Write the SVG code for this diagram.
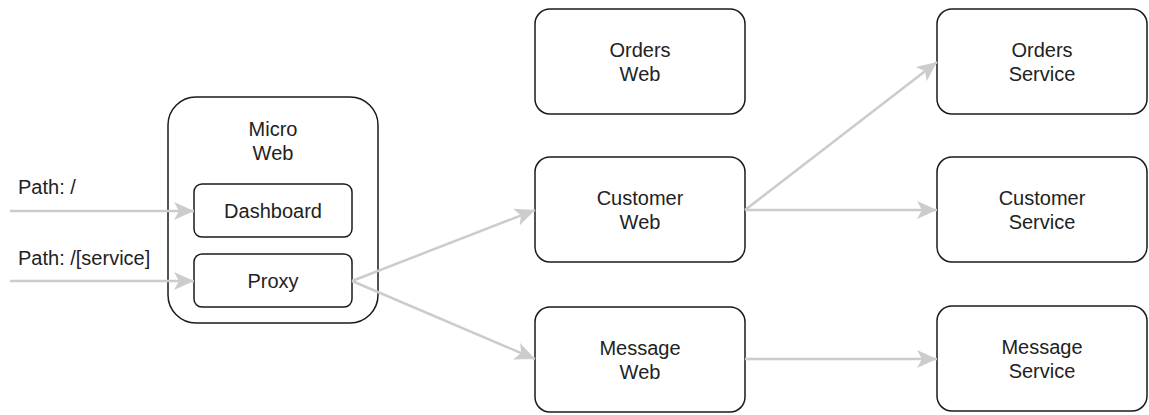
<svg xmlns="http://www.w3.org/2000/svg" width="1149" height="415" viewBox="0 0 1149 415">
<style>
.box{fill:#fff;stroke:#1a1a1a;stroke-width:1.5}
.t{font-family:"Liberation Sans",Arial,sans-serif;font-size:20px;fill:#222;text-anchor:middle}
.l{font-family:"Liberation Sans",Arial,sans-serif;font-size:20px;fill:#222}
.c{fill:none;stroke:#cccccc;stroke-width:2.5}
</style>
<defs>
<marker id="ah" markerUnits="userSpaceOnUse" markerWidth="22" markerHeight="20" refX="20" refY="9" orient="auto" viewBox="0 0 22 18">
<path d="M0,0 L20,9 L0,18 L5,9 Z" fill="#cccccc"/>
</marker>
</defs>
<g id="micro-web">
<rect class="box" x="168" y="97" width="210" height="226" rx="28"/>
<text class="t" x="273" y="136">Micro</text>
<text class="t" x="273" y="160">Web</text>
</g>
<g id="dashboard">
<rect class="box" x="194" y="184" width="158" height="53" rx="8"/>
<text class="t" x="273" y="218">Dashboard</text>
</g>
<g id="proxy">
<rect class="box" x="194" y="254" width="158" height="53" rx="8"/>
<text class="t" x="273" y="288">Proxy</text>
</g>
<g id="orders-web">
<rect class="box" x="535" y="9" width="210" height="105" rx="15"/>
<text class="t" x="640" y="57">Orders</text>
<text class="t" x="640" y="81">Web</text>
</g>
<g id="customer-web">
<rect class="box" x="535" y="157" width="210" height="105" rx="15"/>
<text class="t" x="640" y="205">Customer</text>
<text class="t" x="640" y="229">Web</text>
</g>
<g id="message-web">
<rect class="box" x="535" y="307" width="210" height="105" rx="15"/>
<text class="t" x="640" y="355">Message</text>
<text class="t" x="640" y="379">Web</text>
</g>
<g id="orders-service">
<rect class="box" x="937" y="9" width="210" height="105" rx="15"/>
<text class="t" x="1042" y="57">Orders</text>
<text class="t" x="1042" y="81">Service</text>
</g>
<g id="customer-service">
<rect class="box" x="937" y="157" width="210" height="105" rx="15"/>
<text class="t" x="1042" y="205">Customer</text>
<text class="t" x="1042" y="229">Service</text>
</g>
<g id="message-service">
<rect class="box" x="937" y="306" width="210" height="105" rx="15"/>
<text class="t" x="1042" y="354">Message</text>
<text class="t" x="1042" y="378">Service</text>
</g>
<g id="labels">
<text class="l" x="18" y="194">Path: /</text>
<text class="l" x="18" y="265">Path: /[service]</text>
</g>
<g id="connectors">
<line class="c" x1="10" y1="211" x2="194" y2="211" marker-end="url(#ah)"/>
<line class="c" x1="10" y1="281" x2="194" y2="281" marker-end="url(#ah)"/>
<line class="c" x1="352" y1="281" x2="535" y2="210" marker-end="url(#ah)"/>
<line class="c" x1="352" y1="281" x2="535" y2="359" marker-end="url(#ah)"/>
<line class="c" x1="745" y1="210" x2="937" y2="62" marker-end="url(#ah)"/>
<line class="c" x1="745" y1="210" x2="937" y2="210" marker-end="url(#ah)"/>
<line class="c" x1="745" y1="359" x2="937" y2="359" marker-end="url(#ah)"/>
</g>
</svg>
